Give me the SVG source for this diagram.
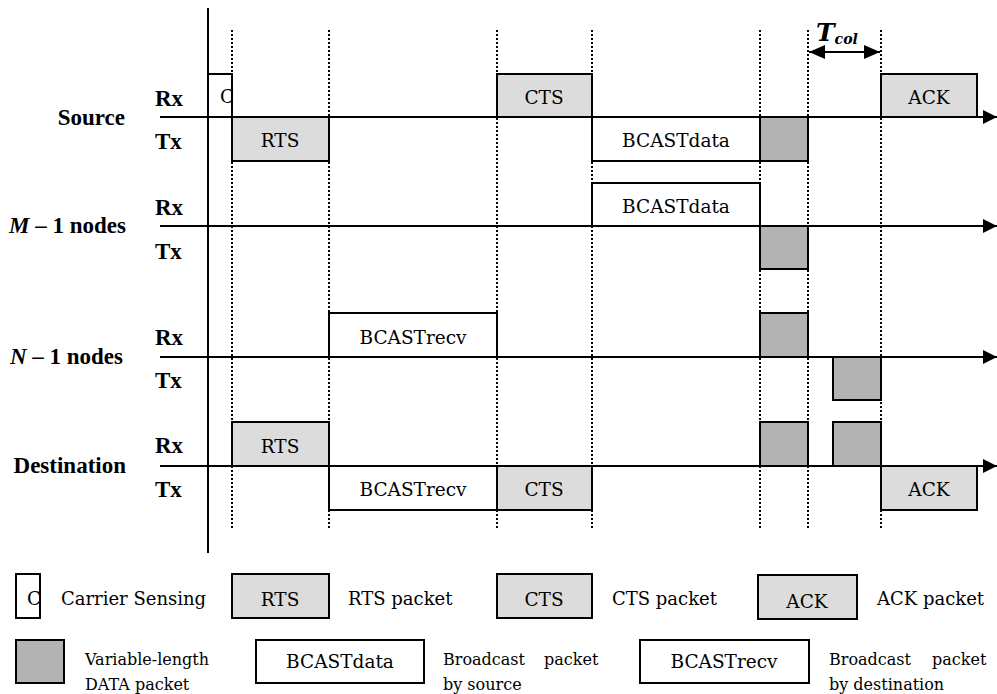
<svg xmlns="http://www.w3.org/2000/svg" width="997" height="694" viewBox="0 0 997 694">
<style>
text{font-family:"DejaVu Serif","Liberation Serif",serif;fill:#000}
.b{font-family:"Liberation Serif","Times New Roman",serif;font-weight:bold;font-size:23px}
.t{font-size:18.5px;text-anchor:middle}
.lg{font-size:18px}
.sm{font-size:16px}
.lt{fill:#dcdcdc;stroke:#000;stroke-width:2}
.dk{fill:#b3b3b3;stroke:#000;stroke-width:2}
.wh{fill:#fff;stroke:#000;stroke-width:2}
.ax{stroke:#000;stroke-width:2;fill:none}
.dot{stroke:#000;stroke-width:2;stroke-dasharray:2 2;fill:none}
</style>
<defs>
<marker id="ah" viewBox="0 0 14 14" refX="14" refY="7" markerWidth="14" markerHeight="14" markerUnits="userSpaceOnUse" orient="auto-start-reverse">
<path d="M0,0 L14,7 L0,14 Z" fill="#000"/>
</marker>
<marker id="ah2" viewBox="0 0 16 14" refX="16" refY="7" markerWidth="16" markerHeight="14" markerUnits="userSpaceOnUse" orient="auto-start-reverse">
<path d="M0,0 L16,7 L0,14 Z" fill="#000"/>
</marker>
</defs>
<rect width="997" height="694" fill="#fff"/>

<g id="connectors">
<line class="ax" x1="208" y1="8" x2="208" y2="553"/>
<line class="dot" x1="232" y1="30" x2="232" y2="530"/>
<line class="dot" x1="329" y1="30" x2="329" y2="530"/>
<line class="dot" x1="497" y1="30" x2="497" y2="530"/>
<line class="dot" x1="592" y1="30" x2="592" y2="530"/>
<line class="dot" x1="760" y1="30" x2="760" y2="530"/>
<line class="dot" x1="808" y1="30" x2="808" y2="530"/>
<line class="dot" x1="881" y1="30" x2="881" y2="530"/>
<line class="ax" x1="160" y1="117" x2="997" y2="117" marker-end="url(#ah)"/>
<line class="ax" x1="160" y1="226" x2="997" y2="226" marker-end="url(#ah)"/>
<line class="ax" x1="160" y1="357" x2="997" y2="357" marker-end="url(#ah)"/>
<line class="ax" x1="160" y1="466" x2="997" y2="466" marker-end="url(#ah)"/>
<line class="ax" x1="809" y1="52" x2="880" y2="52" marker-start="url(#ah2)" marker-end="url(#ah2)"/>
</g>

<g id="tcol"><text x="816" y="41" font-family="Liberation Serif, serif" font-size="25" font-style="italic" font-weight="bold">T<tspan font-size="14" dy="3">col</tspan></text></g>

<g id="labels">
<text class="b" x="125" y="125" text-anchor="end">Source</text>
<text class="b" x="155" y="106">Rx</text>
<text class="b" x="155" y="149">Tx</text>
<text class="b" x="126" y="233" text-anchor="end"><tspan font-style="italic">M</tspan> – 1 nodes</text>
<text class="b" x="155" y="215">Rx</text>
<text class="b" x="155" y="259">Tx</text>
<text class="b" x="123" y="364" text-anchor="end"><tspan font-style="italic">N</tspan> – 1 nodes</text>
<text class="b" x="155" y="345">Rx</text>
<text class="b" x="155" y="388">Tx</text>
<text class="b" x="126" y="473" text-anchor="end">Destination</text>
<text class="b" x="155" y="453">Rx</text>
<text class="b" x="155" y="497">Tx</text>
</g>

<g id="source">
<rect class="wh" x="208" y="74" width="24" height="43"/>
<text class="t" x="220" y="103" style="text-anchor:start">C</text>
<rect class="lt" x="497" y="74" width="95" height="43"/>
<text class="t" x="544" y="104">CTS</text>
<rect class="lt" x="881" y="74" width="96" height="43"/>
<text class="t" x="929" y="104">ACK</text>
<rect class="lt" x="232" y="117" width="97" height="44"/>
<text class="t" x="280" y="147">RTS</text>
<rect class="wh" x="592" y="117" width="168" height="44"/>
<text class="t" x="676" y="147">BCASTdata</text>
<rect class="dk" x="760" y="117" width="48" height="44"/>
</g>

<g id="m1nodes">
<rect class="wh" x="592" y="183" width="168" height="43"/>
<text class="t" x="676" y="213">BCASTdata</text>
<rect class="dk" x="760" y="226" width="48" height="43"/>
</g>

<g id="n1nodes">
<rect class="wh" x="329" y="313" width="168" height="44"/>
<text class="t" x="413" y="344">BCASTrecv</text>
<rect class="dk" x="760" y="313" width="48" height="44"/>
<rect class="dk" x="833" y="357" width="48" height="43"/>
</g>

<g id="destination">
<rect class="lt" x="232" y="422" width="97" height="44"/>
<text class="t" x="280" y="453">RTS</text>
<rect class="dk" x="760" y="422" width="48" height="44"/>
<rect class="dk" x="833" y="422" width="48" height="44"/>
<rect class="wh" x="329" y="466" width="168" height="44"/>
<text class="t" x="413" y="496">BCASTrecv</text>
<rect class="lt" x="497" y="466" width="95" height="44"/>
<text class="t" x="544" y="496">CTS</text>
<rect class="lt" x="881" y="466" width="96" height="44"/>
<text class="t" x="929" y="496">ACK</text>
</g>

<g id="legend">
<rect class="wh" x="16" y="574" width="24" height="44"/>
<text class="t" x="27" y="605" style="text-anchor:start">C</text>
<text class="lg" x="61" y="605">Carrier Sensing</text>
<rect class="lt" x="232" y="574" width="97" height="44"/>
<text class="t" x="280" y="606">RTS</text>
<text class="lg" x="348" y="605">RTS packet</text>
<rect class="lt" x="497" y="574" width="95" height="44"/>
<text class="t" x="544" y="606">CTS</text>
<text class="lg" x="612" y="605">CTS packet</text>
<rect class="lt" x="758" y="575" width="99" height="44"/>
<text class="t" x="807" y="608">ACK</text>
<text class="lg" x="877" y="605">ACK packet</text>

<rect class="dk" x="16" y="640" width="48" height="43"/>
<text class="sm" x="85" y="665">Variable-length</text>
<text class="sm" x="85" y="690">DATA packet</text>
<rect class="wh" x="256" y="640" width="168" height="43"/>
<text class="t" x="340" y="668">BCASTdata</text>
<text class="sm" x="443" y="665">Broadcast<tspan x="544">packet</tspan></text>
<text class="sm" x="443" y="690">by source</text>
<rect class="wh" x="640" y="640" width="169" height="43"/>
<text class="t" x="724" y="668">BCASTrecv</text>
<text class="sm" x="829" y="665">Broadcast<tspan x="932">packet</tspan></text>
<text class="sm" x="829" y="690">by destination</text>
</g>
</svg>
